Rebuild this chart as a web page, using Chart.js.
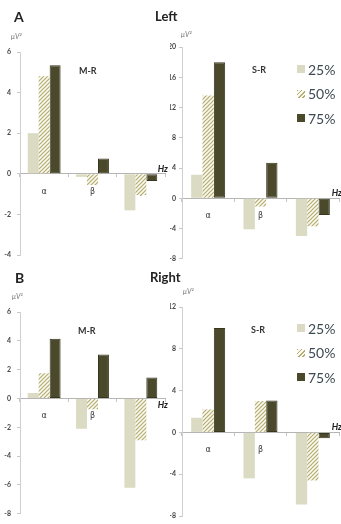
<!DOCTYPE html>
<html>
<head>
<meta charset="utf-8">
<script src="https://cdn.jsdelivr.net/npm/chart.js@4.4.0/dist/chart.umd.min.js"></script>
<style>
  body { margin: 0; background: #fff; }
  #page { position: relative; width: 341px; height: 524px; overflow: hidden; font-family: Lato, 'Open Sans', sans-serif; }
  #page canvas { position: absolute; }
  .t { position: absolute; white-space: nowrap; line-height: 1; color: #222; }
  .panel { font-weight: bold; font-size: 14px; }
  .side { font-weight: bold; font-size: 13px; }
  .cond { font-weight: bold; font-size: 9px; color: #333; }
  .unit { font-style: italic; font-size: 7px; color: #777; }
  .legend { position: absolute; font-size: 14px; color: #3d4a52; }
  .legend div { height: 24.5px; display: flex; align-items: center; }
  .legend span.sw { display: inline-block; width: 8px; height: 8px; margin-right: 3px; }
</style>
</head>
<body>
<div id="page">
  <canvas id="aL"></canvas>
  <canvas id="aR"></canvas>
  <canvas id="bL"></canvas>
  <canvas id="bR"></canvas>

  <div class="t panel" style="left:14px;top:10px">A</div>
  <div class="t side" style="left:155px;top:10px">Left</div>
  <div class="t panel" style="left:15px;top:271px">B</div>
  <div class="t side" style="left:150px;top:271px">Right</div>

  <div class="t cond" style="left:79px;top:66px">M-R</div>
  <div class="t cond" style="left:252px;top:65px">S-R</div>
  <div class="t cond" style="left:78px;top:326px">M-R</div>
  <div class="t cond" style="left:251px;top:325px">S-R</div>

  <div class="t unit" style="left:11px;top:33px">μV²</div>
  <div class="t unit" style="left:181px;top:31px">μV²</div>
  <div class="t unit" style="left:12px;top:293px">μV²</div>
  <div class="t unit" style="left:183px;top:288px">μV²</div>

  <div class="legend" id="legA" style="left:297px;top:57px"></div>
  <div class="legend" id="legB" style="left:297px;top:316px"></div>
</div>
<script>
// frequency bands and stimulation levels
const bands = ['α', 'β', 'γ'];
const levels = ['25%', '50%', '75%'];

// A: left hemisphere
const leftMR25 = [2.0, -0.15, -1.8];
const leftMR50 = [4.8, -0.55, -1.05];
const leftMR75 = [5.35, 0.75, -0.35];
const leftSR25 = [3.1, -4.1, -5.0];
const leftSR50 = [13.6, -1.1, -3.7];
const leftSR75 = [18.0, 4.7, -2.2];

// B: right hemisphere
const rightMR25 = [0.38, -2.1, -6.2];
const rightMR50 = [1.75, -0.75, -2.9];
const rightMR75 = [4.15, 3.05, 1.45];
const rightSR25 = [1.4, -4.4, -6.9];
const rightSR50 = [2.2, 3.0, -4.6];
const rightSR75 = [10.0, 3.05, -0.55];

const light = '#dbdac3';
const dark = '#4b492b';

function hatchPattern() {
  const c = document.createElement('canvas');
  c.width = 4;
  c.height = 4;
  const g = c.getContext('2d');
  g.fillStyle = '#fbfaf0';
  g.fillRect(0, 0, 4, 4);
  g.strokeStyle = '#b3ac70';
  g.lineWidth = 1.2;
  g.beginPath();
  g.moveTo(0, 4); g.lineTo(4, 0);
  g.moveTo(-1, 1); g.lineTo(1, -1);
  g.moveTo(3, 5); g.lineTo(5, 3);
  g.stroke();
  return g.createPattern(c, 'repeat');
}
const hatch = hatchPattern();

// "Hz" at the right end of the zero line
const hzLabel = {
  id: 'hzLabel',
  afterDraw(chart, args, opts) {
    const { ctx, chartArea, scales } = chart;
    const y0 = scales.y.getPixelForValue(0);
    ctx.save();
    ctx.font = 'italic bold 9px Lato, sans-serif';
    ctx.fillStyle = '#222';
    ctx.textAlign = 'right';
    ctx.textBaseline = 'middle';
    ctx.fillText('Hz', chartArea.right + opts.dx, y0 + opts.dy);
    ctx.restore();
  },
};

function makePanel(p) {
  const [bx, by, bw, bh] = p.box;
  const [l, t, r, b] = p.area;
  const canvas = document.getElementById(p.id);
  canvas.width = bw;
  canvas.height = bh;
  canvas.style.left = bx + 'px';
  canvas.style.top = by + 'px';

  new Chart(canvas, {
    type: 'bar',
    data: {
      labels: bands,
      datasets: [
        { label: levels[0], data: p.data[0], backgroundColor: light, borderWidth: 0 },
        { label: levels[1], data: p.data[1], backgroundColor: hatch, borderWidth: 0 },
        { label: levels[2], data: p.data[2], backgroundColor: dark, borderColor: '#38361d', borderWidth: 1, borderSkipped: false },
      ],
    },
    options: {
      responsive: false,
      animation: false,
      events: [],
      layout: { padding: { left: 0, top: t - by, right: bx + bw - r, bottom: by + bh - b } },
      datasets: { bar: { categoryPercentage: p.group, barPercentage: 1 } },
      plugins: { legend: { display: false }, tooltip: { enabled: false }, hzLabel: { dx: 3, dy: p.hzDy } },
      scales: {
        x: {
          position: { y: 0 },
          z: 1,
          grid: { offset: true, drawOnChartArea: false, tickLength: 3, color: '#c4c4c4' },
          border: { color: '#b5b5b5' },
          ticks: { font: { size: 8, family: 'DejaVu Sans' }, color: '#333', padding: 10 },
        },
        y: {
          min: p.min,
          max: p.max,
          afterFit(scale) { scale.width = l - bx; },
          grid: { drawOnChartArea: false, tickLength: 3, color: '#c8c8c8' },
          border: { color: '#cfcfcf' },
          ticks: { stepSize: p.step, padding: p.tickPad, font: { size: 7, weight: 'bold', family: 'Lato' }, color: '#444' },
        },
      },
    },
    plugins: [hzLabel],
  });
}

const panels = [
  { id: 'aL', box: [0, 0, 170, 266], area: [20, 52, 165, 255], min: -4, max: 6, step: 2, group: 0.68, tickPad: 6, hzDy: -5, data: [leftMR25, leftMR50, leftMR75] },
  { id: 'aR', box: [170, 0, 171, 266], area: [182, 47, 339, 261], min: -8, max: 20, step: 4, group: 0.65, tickPad: 3, hzDy: -5, data: [leftSR25, leftSR50, leftSR75] },
  { id: 'bL', box: [0, 266, 170, 258], area: [20, 312, 165, 520], min: -8, max: 6, step: 2, group: 0.68, tickPad: 6, hzDy: 7, data: [rightMR25, rightMR50, rightMR75] },
  { id: 'bR', box: [170, 266, 171, 258], area: [182, 307, 339, 516], min: -8, max: 12, step: 4, group: 0.65, tickPad: 3, hzDy: -5, data: [rightSR25, rightSR50, rightSR75] },
];
panels.forEach(makePanel);

// legends for the right-hand panels
const swatches = [light, 'repeating-linear-gradient(135deg, #b3ac70 0 1.2px, #fbfaf0 1.2px 3px)', dark];
['legA', 'legB'].forEach((id) => {
  document.getElementById(id).innerHTML = levels
    .map((lv, i) => `<div><span class="sw" style="background:${swatches[i]}"></span>${lv}</div>`)
    .join('');
});
</script>
</body>
</html>
